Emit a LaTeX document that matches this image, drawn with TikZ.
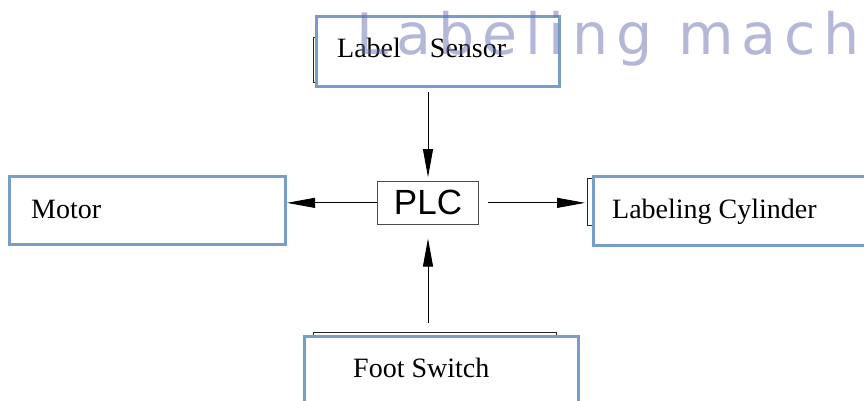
\documentclass[tikz,border=0pt]{standalone}
\usepackage{fontspec}
\setmainfont{Liberation Serif}
\newfontfamily\plcfont{Liberation Sans}
\newfontfamily\wmfont[LetterSpace=13.5]{DejaVu Sans}
\usetikzlibrary{arrows.meta}
\definecolor{boxblue}{RGB}{120,158,198}
\definecolor{wmcol}{RGB}{105,112,178}
\tikzset{
  bluebox/.style={draw=boxblue, line width=3pt, fill=white, inner sep=0pt},
  backrect/.style={draw=black!85, line width=1pt},
  lbl/.style={anchor=base west, inner sep=0pt, font=\fontsize{28}{32}\selectfont},
  conn/.style={line width=0.9pt, -{Triangle[length=28pt,width=10pt]}},
}
\begin{document}
\begin{tikzpicture}[x=1pt,y=-1pt]
\useasboundingbox (0,0) rectangle (864,401);
\clip (0,0) rectangle (864,401);
% hidden rectangles behind boxes
\draw[backrect] (313,38) rectangle (540,83);
\draw[backrect] (587,178) rectangle (700,225);
\draw[backrect] (313,332) rectangle (556,420);
% blue boxes
\node[bluebox, minimum width=243pt, minimum height=70pt] (sensor) at (438,51.5) {};
\node[bluebox, minimum width=276pt, minimum height=68pt] (motor) at (147.5,210.5) {};
\node[bluebox, minimum width=306.5pt, minimum height=69pt] (cyl) at (746.75,211) {};
\node[bluebox, minimum width=274pt, minimum height=114pt] (foot) at (441.5,393.5) {};
% labels
\node[lbl] (sensorlbl) at (337,58) {Label\hspace{29pt}Sensor};
\node[lbl] (motorlbl) at (31,218) {Motor};
\node[lbl] (cyllbl) at (612,218) {Labeling Cylinder};
\node[lbl] (footlbl) at (353,377) {Foot Switch};
% PLC
\node[draw=black!70, line width=1.3pt, minimum width=101.4pt, minimum height=43.1pt, inner sep=0pt,
  font=\plcfont\fontsize{35}{40}\selectfont] (plc) at (428,202.85) {PLC};
% connectors
\draw[conn, shorten <=4pt, shorten >=3.5pt] (plc.north |- sensor.south) -- (plc.north);
\draw[conn, shorten <=12pt, shorten >=13.5pt] (plc.south |- foot.north) -- (plc.south);
\draw[conn] (plc.west) -- (plc.west -| motor.east);
\draw[conn, shorten <=9pt, shorten >=7pt] (plc.east) -- (plc.east -| cyl.west);
% watermark
\node[anchor=base west, inner sep=0pt, text=wmcol, opacity=0.5,
  font=\wmfont\fontsize{57}{60}\selectfont] (wm) at (356.5,54.5) {Labeling machine};
\end{tikzpicture}
\end{document}
